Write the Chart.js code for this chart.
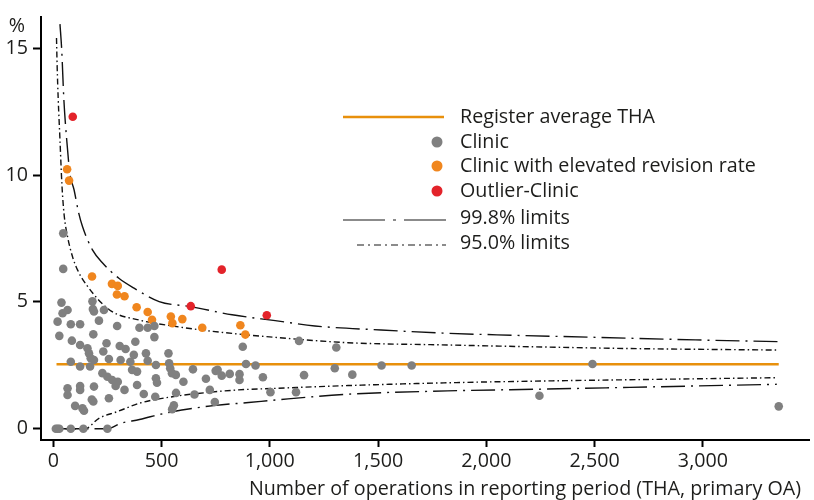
<!DOCTYPE html>
<html>
<head>
<meta charset="utf-8">
<script src="https://cdn.jsdelivr.net/npm/chart.js@4.4.0/dist/chart.umd.min.js"></script>
<style>
  html, body { margin: 0; padding: 0; background: #fff; }
  #wrap { width: 814px; height: 500px; }
</style>
</head>
<body>
<div id="wrap"><canvas id="funnel"></canvas></div>
<script>
// register average revision rate (%) and the n range it is drawn over
const registerAvg = 2.54;
const avgRangeN = [15, 3350];

// clinics inside the limits
const clinicN = [46, 46, 38, 181, 183, 188, 66, 43, 234, 20, 81, 124, 211, 295, 28, 86, 185, 124, 158, 165,
  173, 188, 246, 231, 307, 334, 379, 257, 311, 356, 372, 364, 387, 81, 124, 170, 227, 250, 272, 298,
  288, 188, 66, 66, 124, 124, 329, 387, 418, 257, 185, 178, 101, 135, 142, 12, 20, 28, 81, 139, 250,
  398, 436, 467, 467, 428, 436, 474, 532, 535, 540, 548, 566, 645, 601, 705, 759, 750, 778, 815,
  860, 860, 890, 875, 934, 968, 474, 479, 723, 746, 652, 567, 557, 549, 471,
  1003, 1121, 1135, 1158, 1300, 1307, 1381, 1516, 1655, 2245, 2490, 3350];
const clinicRate = [7.7, 6.3, 4.97, 5.02, 4.72, 4.62, 4.68, 4.55, 4.68, 4.22, 4.12, 4.12, 4.26, 4.05, 3.66, 3.47, 3.72, 3.30, 3.17, 2.97,
  2.78, 2.71, 3.37, 3.04, 3.26, 3.14, 3.43, 2.75, 2.71, 2.64, 2.91, 2.32, 2.25, 2.64, 2.45, 2.45, 2.19, 2.05, 1.92, 1.85,
  1.68, 1.66, 1.59, 1.33, 1.68, 1.53, 1.53, 1.72, 1.37, 1.20, 1.07, 1.15, 0.90, 0.80, 0.71, 0, 0, 0, 0, 0, 0,
  3.98, 3.98, 4.05, 3.61, 2.97, 2.68, 2.51, 2.97, 2.58, 2.38, 2.19, 2.12, 2.34, 1.85, 1.97, 2.32, 2.28, 2.09, 2.16,
  2.15, 1.92, 2.55, 3.23, 2.49, 2.03, 1.99, 1.81, 1.53, 1.05, 1.35, 1.41, 0.92, 0.77, 1.26,
  1.44, 1.44, 3.46, 2.11, 2.38, 3.20, 2.13, 2.49, 2.49, 1.30, 2.55, 0.88];

// clinics with elevated revision rate (between 95% and 99.8% limit)
const elevatedN = [64, 73, 179, 271, 298, 294, 329, 385, 436, 456, 543, 550, 596, 688, 864, 887];
const elevatedRate = [10.23, 9.78, 6.0, 5.71, 5.63, 5.29, 5.22, 4.79, 4.60, 4.29, 4.42, 4.16, 4.32, 3.98, 4.08, 3.71];

// outlier clinics
const outlierN = [90, 635, 778, 986];
const outlierRate = [12.3, 4.83, 6.27, 4.47];

// control limits
const upper998N = [31, 39, 49, 63, 77, 96, 116, 135, 181, 229, 303, 373, 489, 635, 826, 1025, 1208, 1514, 1820, 2049, 2507, 2966, 3350];
const upper998 = [15.95, 14.94, 12.97, 11.3, 10.05, 9.42, 8.56, 7.97, 7.05, 6.52, 5.93, 5.54, 5.01, 4.81, 4.49, 4.26, 4.05, 3.89, 3.76, 3.70, 3.60, 3.50, 3.43];
const upper95N = [15, 18, 23, 31, 40, 50, 66, 89, 112, 156, 260, 398, 550, 704, 856, 1025, 1361, 1820, 2263, 2661, 3341];
const upper95 = [15.4, 14.28, 12.97, 11.39, 9.62, 8.45, 7.57, 6.78, 6.26, 5.64, 4.68, 4.28, 4.05, 3.87, 3.73, 3.60, 3.39, 3.30, 3.22, 3.16, 3.10];
const lower95N = [15, 146, 211, 295, 400, 550, 704, 856, 1025, 1361, 1820, 2263, 2661, 3341];
const lower95 = [0, 0, 0.41, 0.67, 1.01, 1.26, 1.42, 1.53, 1.59, 1.70, 1.81, 1.88, 1.93, 2.01];
const lower998N = [15, 250, 311, 398, 448, 550, 750, 902, 1025, 1361, 1820, 2263, 2661, 3341];
const lower998 = [0, 0, 0.21, 0.36, 0.47, 0.67, 0.92, 1.03, 1.13, 1.36, 1.49, 1.56, 1.63, 1.75];

const xTicks = [0, 500, 1000, 1500, 2000, 2500, 3000];
const yTicks = [0, 5, 10, 15];

const legendLabels = ['Register average THA', 'Clinic', 'Clinic with elevated revision rate',
  'Outlier-Clinic', '99.8% limits', '95.0% limits'];
const xTitle = 'Number of operations in reporting period (THA, primary OA)';
const yUnit = '%';

const fontFamily = '"Open Sans", sans-serif';
const fontSize = 19.7;
const ink = '#1d1d1b';
const avgColor = '#e8900c';
const grey = '#808080';
const orange = '#f0861e';
const red = '#e3232a';
const dash998 = [24, 6, 2, 6];
const dash95 = [6, 3, 1.5, 3];

function pts(xs, ys) {
  return xs.map((x, i) => ({ x: x, y: ys[i] }));
}

function limitSet(xs, ys, dash) {
  return {
    data: pts(xs, ys),
    showLine: true,
    borderColor: '#111',
    borderWidth: 1.4,
    borderDash: dash,
    pointRadius: 0,
    cubicInterpolationMode: 'monotone',
    order: 3
  };
}

function dotSet(xs, ys, color) {
  return {
    data: pts(xs, ys),
    backgroundColor: color,
    borderWidth: 0,
    pointRadius: 4.3,
    pointHoverRadius: 4.3,
    order: 1
  };
}

const overlay = {
  id: 'overlay',
  afterDraw(chart) {
    const c = chart.ctx;
    c.save();
    c.fillStyle = ink;
    c.font = fontSize + 'px ' + fontFamily;
    c.textBaseline = 'middle';
    c.textAlign = 'center';
    c.fillText(yUnit, 17, 26);
    c.textAlign = 'right';
    c.fillText(xTitle, 801, 489);

    // legend
    const rows = [117, 142, 166, 191, 218, 243];
    const textX = 460;
    c.textAlign = 'left';
    legendLabels.forEach((lab, i) => c.fillText(lab, textX, rows[i]));

    c.strokeStyle = avgColor;
    c.lineWidth = 2.5;
    c.beginPath(); c.moveTo(343, rows[0]); c.lineTo(444, rows[0]); c.stroke();

    [grey, orange, red].forEach((col, i) => {
      c.fillStyle = col;
      c.beginPath(); c.arc(437, rows[i + 1], 5.5, 0, Math.PI * 2); c.fill();
    });

    c.strokeStyle = '#666';
    c.lineWidth = 1.4;
    c.setLineDash([42, 8, 3, 8]);
    c.beginPath(); c.moveTo(343, rows[4] + 2); c.lineTo(446, rows[4] + 2); c.stroke();
    c.setLineDash([7, 4, 2, 4]);
    c.beginPath(); c.moveTo(357, rows[5] + 2); c.lineTo(446, rows[5] + 2); c.stroke();
    c.restore();
  }
};

new Chart(document.getElementById('funnel'), {
  type: 'scatter',
  data: {
    datasets: [
      dotSet(clinicN, clinicRate, grey),
      dotSet(elevatedN, elevatedRate, orange),
      dotSet(outlierN, outlierRate, red),
      {
        data: pts(avgRangeN, [registerAvg, registerAvg]),
        showLine: true,
        borderColor: avgColor,
        borderWidth: 2.5,
        pointRadius: 0,
        order: 2
      },
      limitSet(upper998N, upper998, dash998),
      limitSet(upper95N, upper95, dash95),
      limitSet(lower95N, lower95, dash95),
      limitSet(lower998N, lower998, dash998)
    ]
  },
  options: {
    responsive: true,
    maintainAspectRatio: false,
    animation: false,
    layout: { padding: { top: 17, right: 1, left: 0, bottom: 0 } },
    plugins: {
      legend: { display: false },
      tooltip: { enabled: false }
    },
    scales: {
      x: {
        type: 'linear',
        min: -56.6,
        max: 3493,
        afterBuildTicks: s => { s.ticks = xTicks.map(v => ({ value: v })); },
        afterFit: s => { s.height = 60; },
        ticks: {
          color: ink,
          font: { family: fontFamily, size: fontSize },
          padding: 3,
          maxRotation: 0,
          callback: v => v.toLocaleString('en-US')
        },
        grid: { drawOnChartArea: false, drawTicks: true, tickLength: 7, tickWidth: 2, tickColor: '#000' },
        border: { display: true, color: '#000', width: 2 }
      },
      y: {
        type: 'linear',
        min: -0.446,
        max: 16.23,
        afterBuildTicks: s => { s.ticks = yTicks.map(v => ({ value: v })); },
        afterFit: s => { s.width = 41; },
        ticks: {
          color: ink,
          font: { family: fontFamily, size: fontSize },
          padding: 5
        },
        grid: { drawOnChartArea: false, drawTicks: true, tickLength: 8, tickWidth: 2, tickColor: '#000' },
        border: { display: true, color: '#000', width: 2 }
      }
    }
  },
  plugins: [overlay]
});
</script>
</body>
</html>
